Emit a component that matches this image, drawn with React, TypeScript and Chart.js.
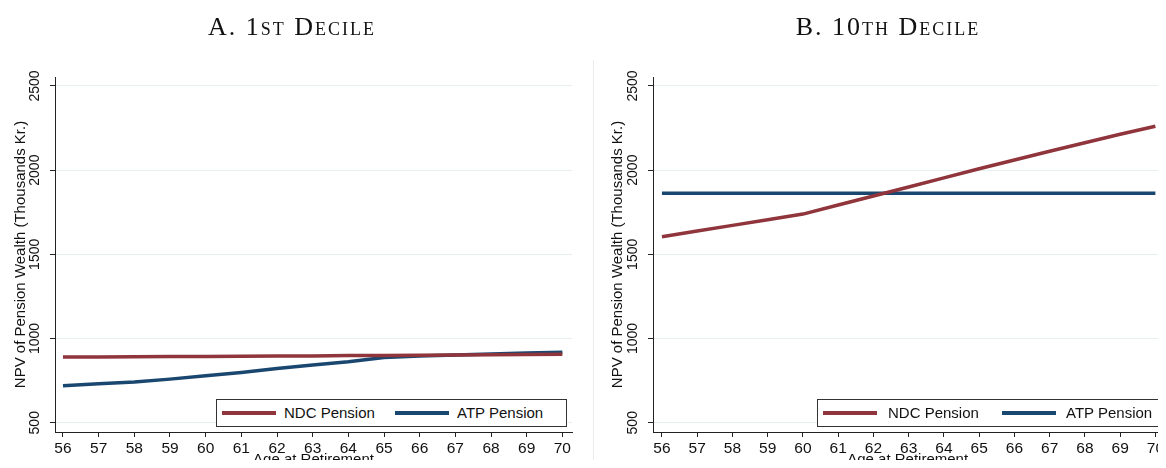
import React, { useEffect, useRef } from "react";
import { Chart, registerables } from "chart.js";

Chart.register(...registerables);

// ---- data ----
const AGES = [56, 57, 58, 59, 60, 61, 62, 63, 64, 65, 66, 67, 68, 69, 70];
const Y_TICKS = [500, 1000, 1500, 2000, 2500];

const NDC_1ST = [890, 891, 892, 893, 894, 895, 896, 897, 899, 900, 901, 902, 903, 905, 906];
const ATP_1ST = [720, 731, 742, 759, 779, 799, 822, 843, 862, 888, 896, 902, 908, 914, 918];

const NDC_10TH = [1604, 1638, 1672, 1705, 1739, 1793, 1846, 1900, 1954, 2008, 2060, 2112, 2163, 2213, 2261];
const ATP_10TH = [1862, 1862, 1862, 1862, 1862, 1862, 1862, 1862, 1862, 1862, 1862, 1862, 1862, 1862, 1862];

const SERIES_LABELS = ["NDC Pension", "ATP Pension"];
const PANEL_TITLES = ["A. 1st Decile", "B. 10th Decile"];
const X_TITLE = "Age at Retirement";
const Y_TITLE = "NPV of Pension Wealth (Thousands Kr.)";

const NDC_COLOR = "#90353b";
const ATP_COLOR = "#1a476f";
const SANS = '"Liberation Sans", Arial, sans-serif';

type PanelProps = {
  left: number;
  width: number;
  ndc: number[];
  atp: number[];
  xMin: number;
  xMax: number;
  yAxisWidth: number;
  rightPad: number;
  yTitlePad: number;
};

function Panel(p: PanelProps) {
  const ref = useRef<HTMLCanvasElement | null>(null);
  useEffect(() => {
    if (!ref.current) return;
    const chart = new Chart(ref.current, {
      type: "line",
      data: {
        datasets: [
          {
            label: SERIES_LABELS[0],
            data: AGES.map((a, i) => ({ x: a, y: p.ndc[i] })),
            borderColor: NDC_COLOR,
            backgroundColor: NDC_COLOR,
          },
          {
            label: SERIES_LABELS[1],
            data: AGES.map((a, i) => ({ x: a, y: p.atp[i] })),
            borderColor: ATP_COLOR,
            backgroundColor: ATP_COLOR,
          },
        ],
      },
      options: {
        animation: false,
        responsive: false,
        maintainAspectRatio: false,
        layout: { padding: { left: 0, right: p.rightPad, top: 77, bottom: 0 } },
        plugins: { legend: { display: false }, tooltip: { enabled: false } },
        elements: {
          point: { radius: 0 },
          line: { tension: 0, borderWidth: 3.5, borderCapStyle: "butt" },
        },
        scales: {
          x: {
            type: "linear",
            min: p.xMin,
            max: p.xMax,
            afterBuildTicks: (s: any) => {
              s.ticks = AGES.map((v) => ({ value: v }));
            },
            afterFit: (s: any) => {
              s.height = 36;
            },
            grid: { drawOnChartArea: false, drawTicks: true, tickLength: 5, tickColor: "#222" },
            border: { color: "#222", width: 1 },
            ticks: {
              autoSkip: false,
              maxRotation: 0,
              padding: 2,
              color: "#111",
              font: { family: SANS, size: 15.5 },
              callback: (v: any) => String(v),
            },
            title: {
              display: true,
              text: X_TITLE,
              color: "#111",
              font: { family: SANS, size: 15 },
              padding: { top: 0, bottom: -1 },
            },
          },
          y: {
            type: "linear",
            min: 445,
            max: 2553,
            afterBuildTicks: (s: any) => {
              s.ticks = Y_TICKS.map((v) => ({ value: v }));
            },
            afterFit: (s: any) => {
              s.width = p.yAxisWidth;
            },
            grid: { color: "#e6eef0", lineWidth: 1, tickLength: 5, tickColor: "#222" },
            border: { color: "#222", width: 1 },
            ticks: {
              autoSkip: false,
              minRotation: 90,
              maxRotation: 90,
              crossAlign: "center",
              padding: -1,
              color: "#111",
              font: { family: SANS, size: 14 },
              callback: (v: any) => String(v),
            },
            title: {
              display: true,
              text: Y_TITLE,
              color: "#111",
              font: { family: SANS, size: 15 },
              padding: { top: p.yTitlePad, bottom: 0 },
            },
          },
        },
      } as any,
    });
    return () => chart.destroy();
  }, []);
  return (
    <canvas
      ref={ref}
      width={p.width}
      height={468}
      style={{ position: "absolute", left: p.left, top: 0, width: p.width, height: 468 }}
    />
  );
}

function Legend({ left, width, s1, t1, s2, t2 }: { left: number; width: number; s1: number; t1: number; s2: number; t2: number }) {
  const textStyle: React.CSSProperties = {
    position: "absolute",
    top: 0,
    lineHeight: "25px",
    fontFamily: SANS,
    fontSize: 15,
    color: "#111",
    whiteSpace: "nowrap",
  };
  const sample: React.CSSProperties = { position: "absolute", top: 11, width: 54, height: 4 };
  return (
    <div
      style={{
        position: "absolute",
        left,
        top: 399,
        width,
        height: 28,
        boxSizing: "border-box",
        border: "1px solid #333",
        background: "#fff",
      }}
    >
      <span style={{ ...sample, left: s1, background: NDC_COLOR }} />
      <span style={{ ...textStyle, left: t1 }}>{SERIES_LABELS[0]}</span>
      <span style={{ ...sample, left: s2, background: ATP_COLOR }} />
      <span style={{ ...textStyle, left: t2 }}>{SERIES_LABELS[1]}</span>
    </div>
  );
}

function Title({ cx, text }: { cx: number; text: string }) {
  return (
    <div
      style={{
        position: "absolute",
        left: cx - 200,
        width: 400,
        top: 14,
        textAlign: "center",
        fontFamily: '"Liberation Serif", "Times New Roman", serif',
        fontSize: 26,
        lineHeight: "26px",
        fontVariant: "small-caps",
        letterSpacing: 2,
        color: "#111",
        whiteSpace: "nowrap",
      }}
    >
      {text}
    </div>
  );
}

export default function App() {
  return (
    <div
      style={{
        position: "relative",
        width: 1166,
        height: 468,
        margin: -8,
        overflow: "hidden",
        background: "#fff",
      }}
    >
      <Panel left={0} width={593} ndc={NDC_1ST} atp={ATP_1ST} xMin={55.776} xMax={70.27} yAxisWidth={55} rightPad={21} yTitlePad={12} />
      <Panel left={593} width={573} ndc={NDC_10TH} atp={ATP_10TH} xMin={55.746} xMax={70.197} yAxisWidth={60} rightPad={0} yTitlePad={15.5} />
      <div style={{ position: "absolute", left: 593, top: 60, width: 1, height: 408, background: "#ececec" }} />
      <Title cx={292} text={PANEL_TITLES[0]} />
      <Title cx={888} text={PANEL_TITLES[1]} />
      <Legend left={216} width={351} s1={5} t1={67} s2={178} t2={240} />
      <Legend left={817} width={346} s1={5} t1={70} s2={184} t2={248} />
    </div>
  );
}
